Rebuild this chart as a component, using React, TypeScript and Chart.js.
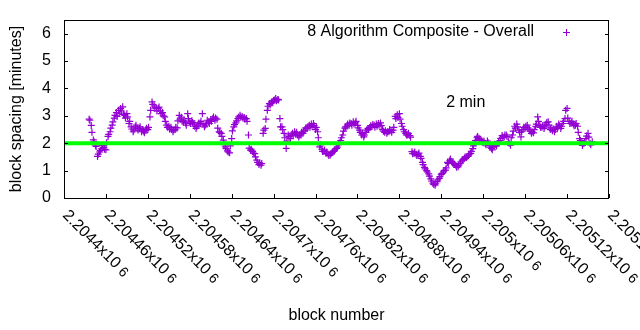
import React, { useEffect, useRef } from 'react';
import { Chart, registerables } from 'chart.js';

Chart.register(...registerables);

// ---- data ----
const seriesLabel = '8 Algorithm Composite - Overall';
const targetLabel = '2 min';
const xTitle = 'block number';
const yTitle = 'block spacing [minutes]';

// samples every 3 blocks starting at blockStart (first pass)
const blockStart = 2204436;
const blockStep = 3;
const spacingMinutes = [
  2.88, 2.65, 2.12, 1.93, 1.52, 1.68, 1.80, 1.85, 1.76, 2.25,
  2.42, 2.66, 2.92, 3.12, 3.20, 3.27, 3.33, 3.02, 3.08, 2.72,
  2.60, 2.42, 2.60, 2.55, 2.54, 2.42, 2.45, 2.48, 2.50, 2.96,
  3.51, 3.36, 3.30, 3.27, 3.18, 3.12, 2.96, 2.66, 2.62, 2.58,
  2.42, 2.50, 2.56, 3.02, 2.95, 2.78, 2.74, 3.08, 2.78, 2.82,
  2.70, 2.54, 2.66, 2.72, 3.08, 2.60, 2.72, 2.78, 2.86, 2.90,
  2.84, 2.88, 2.42, 2.36, 2.11, 1.87, 1.72, 1.65, 2.17, 2.60,
  2.74, 2.90, 3.02, 2.98, 2.94, 2.90, 2.30, 1.75, 1.70, 1.62,
  1.38, 1.22, 1.20, 2.36, 2.54, 3.20, 3.45, 3.51, 3.56, 3.63,
  3.60, 2.90, 2.60, 2.36, 1.81, 2.30, 2.17, 2.36, 2.42, 2.40,
  2.23, 2.30, 2.36, 2.48, 2.54, 2.66, 2.70, 2.72, 2.50, 2.42,
  1.87, 1.78, 1.70, 1.63, 1.60, 1.57, 1.66, 1.72, 1.81, 1.95,
  2.10, 2.30, 2.55, 2.62, 2.66, 2.72, 2.78, 2.74, 2.65, 2.48,
  2.30, 2.23, 2.40, 2.54, 2.58, 2.62, 2.66, 2.70, 2.72, 2.74,
  2.50, 2.40, 2.36, 2.42, 2.46, 2.48, 2.98, 3.04, 3.08, 2.72,
  2.50, 2.36, 2.30, 2.28, 1.69, 1.63, 1.60, 1.60, 1.52, 1.30,
  1.12, 1.00, 0.88, 0.70, 0.54, 0.47, 0.60, 0.72, 0.86, 0.95,
  1.02, 1.30, 1.36, 1.33, 1.26, 1.18, 1.14, 1.26, 1.36, 1.45,
  1.48, 1.54, 1.63, 1.80, 2.02, 2.20, 2.18, 2.11, 2.02, 1.99,
  2.08, 1.92, 1.81, 1.90, 1.95, 1.99, 2.10, 2.28, 2.23, 2.30,
  2.05, 1.93, 2.30, 2.62, 2.70, 2.48, 2.23, 2.50, 2.56, 2.66,
  2.50, 2.36, 2.38, 2.62, 2.96, 2.65, 2.58, 2.54, 2.70, 2.78,
  2.50, 2.46, 2.42, 2.62, 2.70, 2.54, 2.72, 2.90, 3.27, 2.80,
  2.74, 2.70, 2.66, 2.62, 2.17, 2.02, 1.99, 2.17, 2.36, 1.99,
  2.05,
];
// in-between samples (one block after each of the above)
const blockStartB = 2204437;
const spacingMinutesB = [
  2.84, 2.40, 2.05, 1.88, 1.60, 1.74, 1.92, 1.78, 2.02, 2.32,
  2.55, 2.78, 3.02, 2.98, 3.10, 3.18, 3.05, 2.92, 2.96, 2.80,
  2.52, 2.48, 2.66, 2.48, 2.60, 2.50, 2.38, 2.55, 2.58, 3.20,
  3.42, 3.28, 3.18, 3.32, 3.08, 3.00, 2.80, 2.58, 2.52, 2.50,
  2.48, 2.58, 2.82, 2.88, 2.80, 2.84, 2.66, 2.90, 2.72, 2.76,
  2.62, 2.60, 2.74, 2.80, 2.70, 2.66, 2.84, 2.72, 2.80, 2.96,
  2.92, 2.55, 2.40, 2.25, 1.95, 1.80, 1.68, 1.90, 2.45, 2.68,
  2.82, 2.96, 2.95, 2.92, 2.88, 2.80, 1.82, 1.78, 1.64, 1.50,
  1.30, 1.28, 1.26, 2.48, 2.88, 3.35, 3.40, 3.48, 3.58, 3.55,
  3.58, 2.60, 2.50, 2.20, 2.08, 2.24, 2.30, 2.28, 2.34, 2.30,
  2.30, 2.40, 2.44, 2.56, 2.60, 2.58, 2.62, 2.64, 2.58, 2.20,
  1.94, 1.70, 1.75, 1.68, 1.55, 1.62, 1.70, 1.78, 1.86, 2.02,
  2.20, 2.44, 2.60, 2.70, 2.74, 2.66, 2.70, 2.80, 2.56, 2.40,
  2.36, 2.30, 2.48, 2.50, 2.64, 2.68, 2.58, 2.62, 2.66, 2.64,
  2.44, 2.46, 2.42, 2.50, 2.40, 2.58, 2.90, 2.94, 2.88, 2.62,
  2.42, 2.30, 2.36, 2.22, 1.62, 1.68, 1.55, 1.64, 1.45, 1.22,
  1.06, 0.95, 0.80, 0.62, 0.50, 0.52, 0.66, 0.78, 0.90, 1.00,
  1.10, 1.26, 1.42, 1.28, 1.22, 1.12, 1.20, 1.32, 1.40, 1.50,
  1.52, 1.60, 1.70, 1.90, 2.10, 2.25, 2.14, 2.05, 2.08, 1.94,
  2.02, 1.86, 1.76, 1.96, 1.90, 2.05, 2.18, 2.22, 2.30, 2.25,
  2.00, 2.20, 2.44, 2.55, 2.60, 2.40, 2.42, 2.58, 2.62, 2.56,
  2.44, 2.42, 2.50, 2.70, 2.80, 2.58, 2.64, 2.60, 2.76, 2.66,
  2.56, 2.52, 2.50, 2.56, 2.64, 2.62, 2.80, 3.20, 2.92, 2.72,
  2.80, 2.64, 2.72, 2.40, 2.10, 1.92, 2.05, 2.26, 2.22, 1.94,
];

const targetMinutes = 2;
const targetLabelAt = { x: 2204947, y: 3.5 };

const xMin = 2204400;
const xMax = 2205180;
const yMin = 0;
const yMax = 6.5;

const xTickValues = [
  2204400, 2204460, 2204520, 2204580, 2204640, 2204700, 2204760,
  2204820, 2204880, 2204940, 2205000, 2205060, 2205120, 2205180,
];
const xTickLabels = [
  '2.2044', '2.20446', '2.20452', '2.20458', '2.20464', '2.2047', '2.20476',
  '2.20482', '2.20488', '2.20494', '2.205', '2.20506', '2.20512', '2.20518',
];
const xTickExponent = '6';
const yTickValues = [0, 1, 2, 3, 4, 5, 6];

// ---- styles ----
const FONT = '"Liberation Sans", Arial, sans-serif';
const PURPLE = '#9400d3';
const GREEN = '#00ff00';

const gnuplotPlugin = {
  id: 'gnuplotDecor',
  afterDraw(chart: any) {
    const ctx: CanvasRenderingContext2D = chart.ctx;
    const a = chart.chartArea;
    const xs = chart.scales.x;
    const ys = chart.scales.y;
    ctx.save();
    ctx.strokeStyle = '#000';
    ctx.lineWidth = 1;
    ctx.strokeRect(Math.round(a.left) + 0.5, Math.round(a.top) + 0.5,
      Math.round(a.right - a.left) - 1, Math.round(a.bottom - a.top));
    const tl = 4;
    ctx.beginPath();
    yTickValues.forEach((v) => {
      const py = Math.round(ys.getPixelForValue(v)) + 0.5;
      ctx.moveTo(a.left, py); ctx.lineTo(a.left + tl, py);
      ctx.moveTo(a.right, py); ctx.lineTo(a.right - tl, py);
    });
    xTickValues.forEach((v) => {
      const px = Math.round(xs.getPixelForValue(v)) + 0.5;
      ctx.moveTo(px, a.bottom); ctx.lineTo(px, a.bottom - tl);
    });
    ctx.stroke();

    ctx.fillStyle = '#000';
    ctx.font = `16px ${FONT}`;
    ctx.textAlign = 'right';
    ctx.textBaseline = 'middle';
    yTickValues.forEach((v) => {
      ctx.fillText(String(v), a.left - 13, ys.getPixelForValue(v));
    });
    xTickValues.forEach((v, i) => {
      const px = xs.getPixelForValue(v);
      ctx.save();
      ctx.translate(px + 1, a.bottom + 15);
      ctx.rotate(Math.PI / 4);
      ctx.font = `16px ${FONT}`;
      ctx.textAlign = 'left';
      ctx.textBaseline = 'middle';
      const main = xTickLabels[i] + 'x10';
      ctx.fillText(main, 0, 0);
      const w = ctx.measureText(main + ' ').width;
      ctx.font = `14px ${FONT}`;
      ctx.fillText(xTickExponent, w, 1);
      ctx.restore();
    });
    ctx.font = `16px ${FONT}`;
    ctx.textAlign = 'center';
    ctx.textBaseline = 'middle';
    ctx.fillText(xTitle, (a.left + a.right) / 2, 316);
    ctx.save();
    ctx.translate(17, (a.top + a.bottom) / 2);
    ctx.rotate(-Math.PI / 2);
    ctx.fillText(yTitle, 0, 0);
    ctx.restore();
    ctx.textAlign = 'right';
    ctx.fillText(seriesLabel, 534, 32);
    ctx.strokeStyle = PURPLE;
    ctx.beginPath();
    ctx.moveTo(563, 32.5); ctx.lineTo(570, 32.5);
    ctx.moveTo(566.5, 29); ctx.lineTo(566.5, 36);
    ctx.stroke();
    ctx.textAlign = 'left';
    ctx.fillText(targetLabel, xs.getPixelForValue(targetLabelAt.x), ys.getPixelForValue(targetLabelAt.y));
    ctx.restore();
  },
};

export default function App() {
  const ref = useRef<HTMLCanvasElement | null>(null);
  useEffect(() => {
    document.body.style.margin = '0';
    const points = [
      ...spacingMinutes.map((v, i) => ({ x: blockStart + i * blockStep, y: v })),
      ...spacingMinutesB.map((v, i) => ({ x: blockStartB + i * blockStep, y: v })),
    ];
    const chart = new Chart(ref.current as HTMLCanvasElement, {
      type: 'scatter',
      data: {
        datasets: [
          {
            type: 'line',
            label: targetLabel,
            data: [{ x: xMin, y: targetMinutes }, { x: xMax, y: targetMinutes }],
            borderColor: GREEN,
            backgroundColor: GREEN,
            borderWidth: 4,
            pointRadius: 0,
            order: 0,
          } as any,
          {
            label: seriesLabel,
            data: points,
            pointStyle: 'cross',
            pointRadius: 3.5,
            pointHoverRadius: 3.5,
            borderColor: PURPLE,
            backgroundColor: PURPLE,
            borderWidth: 1.2,
            order: 1,
          } as any,
        ],
      },
      options: {
        animation: false,
        responsive: false,
        maintainAspectRatio: false,
        events: [],
        layout: { padding: { top: 20, right: 31, left: 0, bottom: 0 } },
        plugins: { legend: { display: false }, tooltip: { enabled: false } },
        scales: {
          x: {
            type: 'linear', min: xMin, max: xMax,
            grid: { display: false }, border: { display: false },
            ticks: { display: false },
            afterFit: (s: any) => { s.height = 132; },
          },
          y: {
            type: 'linear', min: yMin, max: yMax,
            grid: { display: false }, border: { display: false },
            ticks: { display: false },
            afterFit: (s: any) => { s.width = 64; },
          },
        },
      } as any,
      plugins: [gnuplotPlugin],
    });
    return () => chart.destroy();
  }, []);
  return (
    <div style={{ width: 640, height: 330 }}>
      <canvas ref={ref} width={640} height={330} />
    </div>
  );
}
